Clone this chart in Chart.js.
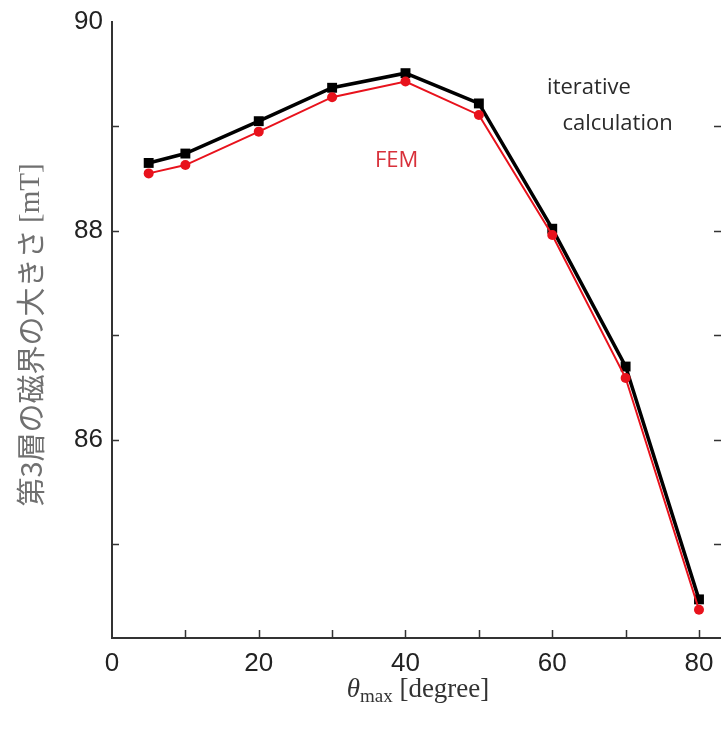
<!DOCTYPE html>
<html>
<head>
<meta charset="utf-8">
<script src="https://cdn.jsdelivr.net/npm/chart.js@4/dist/chart.umd.min.js"></script>
<style>
  html, body { margin: 0; padding: 0; background: #fff; overflow: hidden; }
  body { width: 721px; height: 729px; }
  #wrap { width: 728px; height: 729px; }
</style>
</head>
<body>
<div id="wrap"><canvas id="fieldChart"></canvas></div>
<script>
// theta_max [degree]
const thetaMax = [5, 10, 20, 30, 40, 50, 60, 70, 80];
// magnetic field of layer 3 [mT]
const iterativeValues = [88.65, 88.74, 89.05, 89.37, 89.51, 89.22, 88.02, 86.70, 84.47];
const femValues = [88.55, 88.63, 88.95, 89.28, 89.43, 89.11, 87.96, 86.59, 84.37];

const xTickLabels = [0, 20, 40, 60, 80];
const yTickLabels = [86, 88, 90];
const xMinorTicks = [10, 20, 30, 40, 50, 60, 70, 80];
const yMinorTicks = [85, 86, 87, 88, 89];

// text labels placed at data coordinates
const annotations = [
    { text: 'iterative', x: 65, y: 89.37, color: '#2a2a2a' },
    { text: 'calculation', x: 68.9, y: 89.03, color: '#2a2a2a' },
    { text: 'FEM', x: 38.8, y: 88.67, color: '#d8303a' }
];

const axisColor = '#333';

// inward ticks, axis titles and text labels
const decorPlugin = {
    id: 'decor',
    afterDraw(chart) {
        const ctx = chart.ctx;
        const xs = chart.scales.x;
        const ys = chart.scales.y;
        const area = chart.chartArea;
        ctx.save();
        ctx.strokeStyle = axisColor;
        ctx.lineWidth = 1.5;
        ctx.beginPath();
        yMinorTicks.forEach(v => {
            const py = Math.round(ys.getPixelForValue(v)) + 0.5;
            ctx.moveTo(area.left, py);
            ctx.lineTo(area.left + 7, py);
            ctx.moveTo(area.right, py);
            ctx.lineTo(area.right - 7, py);
        });
        xMinorTicks.forEach(v => {
            const px = Math.round(xs.getPixelForValue(v)) + 0.5;
            ctx.moveTo(px, area.bottom);
            ctx.lineTo(px, area.bottom - 8);
        });
        ctx.stroke();

        // annotations
        ctx.font = '22px "Open Sans", sans-serif';
        ctx.textAlign = 'center';
        ctx.textBaseline = 'middle';
        annotations.forEach(a => {
            ctx.fillStyle = a.color;
            ctx.fillText(a.text, xs.getPixelForValue(a.x), ys.getPixelForValue(a.y));
        });

        // x title: theta_max [degree]
        const cx = 418;
        const ty = 697;
        const parts = [
            { t: 'θ', f: 'italic 27px "Liberation Serif", serif', dy: 0 },
            { t: 'max', f: '19px "Liberation Serif", serif', dy: 5 },
            { t: ' [degree]', f: '27px "Liberation Serif", serif', dy: 0 }
        ];
        let total = 0;
        parts.forEach(p => { ctx.font = p.f; p.w = ctx.measureText(p.t).width; total += p.w; });
        let px = cx - total / 2;
        ctx.fillStyle = '#333';
        ctx.textAlign = 'left';
        ctx.textBaseline = 'alphabetic';
        parts.forEach(p => {
            ctx.font = p.f;
            ctx.fillText(p.t, px, ty + p.dy);
            px += p.w;
        });

        // y title
        ctx.translate(31, 335);
        ctx.rotate(-Math.PI / 2);
        const yparts = [
            { t: '第3層の磁界の大きさ ', f: '29px "Noto Sans CJK JP", sans-serif' },
            { t: '[mT]', f: '29px "Liberation Serif", serif' }
        ];
        total = 0;
        yparts.forEach(p => { ctx.font = p.f; p.w = ctx.measureText(p.t).width; total += p.w; });
        px = -total / 2;
        ctx.fillStyle = '#707070';
        ctx.textBaseline = 'middle';
        yparts.forEach(p => {
            ctx.font = p.f;
            ctx.fillText(p.t, px, 0);
            px += p.w;
        });
        ctx.restore();
    }
};

const ctxField = document.getElementById('fieldChart').getContext('2d');
const fieldChart = new Chart(ctxField, {
    type: 'line',
    data: {
        datasets: [{
            label: 'FEM',
            data: thetaMax.map((t, i) => ({ x: t, y: femValues[i] })),
            borderColor: '#e8121c',
            backgroundColor: '#e8121c',
            borderWidth: 2,
            pointStyle: 'circle',
            pointRadius: 5,
            pointBorderWidth: 0,
            tension: 0,
            fill: false
        }, {
            label: 'iterative calculation',
            data: thetaMax.map((t, i) => ({ x: t, y: iterativeValues[i] })),
            borderColor: '#000',
            backgroundColor: '#000',
            borderWidth: 3.5,
            pointStyle: 'rect',
            pointRadius: 7,
            pointBorderWidth: 0,
            tension: 0,
            fill: false
        }]
    },
    options: {
        responsive: true,
        maintainAspectRatio: false,
        animation: false,
        layout: { padding: { top: 22, right: 0, left: 0, bottom: 0 } },
        plugins: {
            legend: { display: false },
            tooltip: { enabled: false }
        },
        scales: {
            x: {
                type: 'linear',
                min: 0,
                max: 83,
                afterBuildTicks: s => { s.ticks = xTickLabels.map(v => ({ value: v })); },
                afterFit: s => { s.height = 91; s.paddingLeft = 0; s.paddingRight = 0; },
                grid: { display: false, drawTicks: false },
                border: { display: true, color: axisColor, width: 2 },
                ticks: {
                    padding: 10,
                    color: '#222',
                    font: { family: '"Liberation Sans", Arial, sans-serif', size: 26 },
                    maxRotation: 0
                }
            },
            y: {
                type: 'linear',
                min: 84.1,
                max: 90,
                afterBuildTicks: s => { s.ticks = yTickLabels.map(v => ({ value: v })); },
                afterFit: s => { s.width = 112; s.paddingTop = 0; s.paddingBottom = 0; },
                grid: { display: false, drawTicks: false },
                border: { display: true, color: axisColor, width: 2 },
                ticks: {
                    padding: 9,
                    color: '#222',
                    font: { family: '"Liberation Sans", Arial, sans-serif', size: 26 }
                }
            }
        }
    },
    plugins: [decorPlugin]
});
</script>
</body>
</html>
